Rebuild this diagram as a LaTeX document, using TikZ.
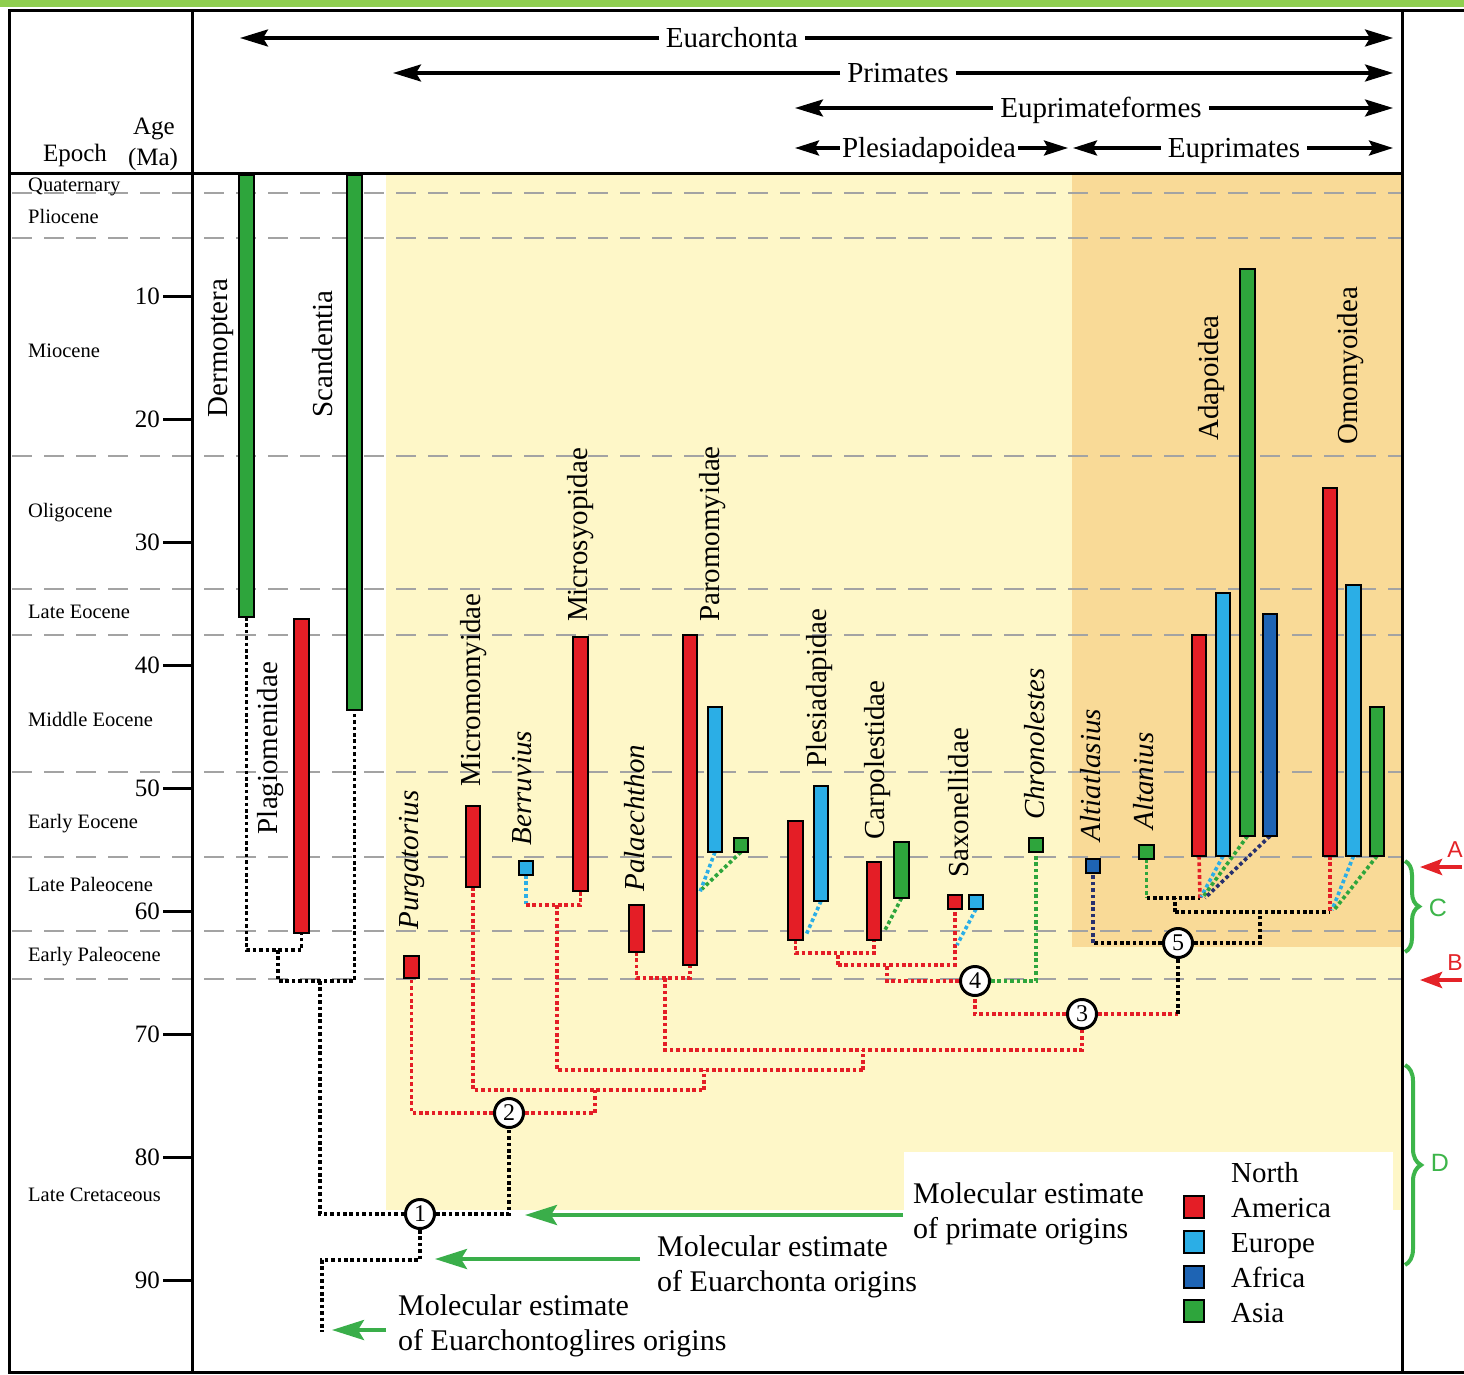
\documentclass[tikz,border=0pt]{standalone}
\usepackage{fontspec}
\setmainfont{Liberation Serif}
\newfontfamily\lettfont{Liberation Sans}
\usetikzlibrary{arrows.meta,decorations.pathreplacing}
\pgfdeclarelayer{back}
\pgfdeclarelayer{conn}
\pgfsetlayers{back,conn,main}
\definecolor{cRed}{HTML}{E41E26}
\definecolor{cLB}{HTML}{2BAEE6}
\definecolor{cDB}{HTML}{1E64B4}
\definecolor{cGr}{HTML}{2EA53C}
\definecolor{cYel}{HTML}{FEF7C8}
\definecolor{cOra}{HTML}{F9DA97}
\definecolor{cTop}{HTML}{8FCF4F}
\definecolor{cArr}{HTML}{3AAE4A}
\definecolor{cDash}{HTML}{A3A3A3}
\definecolor{cNavy}{HTML}{27306E}
\definecolor{cAnn}{HTML}{E42328}
\definecolor{cBrace}{HTML}{3DB54A}
\newcommand\taxbar[6]{%
  \pgfmathsetmacro\tbw{#3-#2-2}\pgfmathsetmacro\tbh{#5-#4-2}%
  \pgfmathsetmacro\tbx{(#2+#3)/2}\pgfmathsetmacro\tby{(#4+#5)/2}%
  \node[barbox, fill=#6, minimum width=\tbw pt, minimum height=\tbh pt] (#1) at (\tbx,\tby) {};}
\begin{document}
\begin{tikzpicture}[x=1pt,y=-1pt,
  barbox/.style={draw=black,line width=2pt,inner sep=0pt,outer sep=0pt},
  dotbase/.style={line width=3.6pt,dash pattern=on 3.6pt off 2.8pt},
  dotk/.style={dotbase,draw=black},
  dotr/.style={dotbase,draw=cRed},
  dotb/.style={dotbase,draw=cLB},
  dotg/.style={dotbase,draw=cGr},
  dotn/.style={dotbase,draw=cNavy},
  epline/.style={draw=cDash,line width=1.6pt,dash pattern=on 20pt off 12pt},
  frame/.style={draw=black,line width=3pt},
  nd/.style={circle,draw=black,line width=3pt,fill=white,minimum size=29pt,inner sep=0pt,font=\fontsize{24}{24}\selectfont},
  harr/.style={draw=black,line width=3.4pt,-{Stealth[length=28pt,width=17pt,inset=5pt]}},
  harrs/.style={draw=black,line width=3.4pt,-{Stealth[length=24pt,width=15pt,inset=4pt]}},
  garr/.style={draw=cArr,line width=4pt,-{Stealth[length=32pt,width=20pt,inset=6pt]}},
  rarr/.style={draw=cAnn,line width=4pt,-{Stealth[length=22pt,width=16pt,inset=4pt]}},
  brc/.style={draw=cBrace,line width=4pt,decorate,decoration={brace,amplitude=14pt}},
  htxt/.style={font=\fontsize{29}{34}\selectfont,inner ysep=0pt,inner xsep=7pt,anchor=base},
  lbl/.style={font=\fontsize{29}{34}\selectfont,inner sep=0pt},
  rot/.style={lbl,rotate=90},
  roti/.style={rot,font=\fontsize{29}{34}\selectfont\itshape},
  epo/.style={font=\fontsize{20.5}{24}\selectfont,inner sep=0pt,anchor=base west},
  agel/.style={font=\fontsize{25}{30}\selectfont,inner sep=0pt},
  ann/.style={font=\fontsize{30}{35}\selectfont,inner sep=0pt,anchor=base west},
  lett/.style={font=\lettfont\fontsize{23}{28}\selectfont,inner sep=0pt}
]
\useasboundingbox (0,0) rectangle (1464,1375);
% backgrounds, epoch boundaries, frame
\begin{pgfonlayer}{back}
\fill[white] (0,0) rectangle (1464,1375);
\fill[cTop] (0,0) rectangle (1464,7);
\fill[cYel] (386,175) rectangle (1402,1210);
\fill[cOra] (1072,175) rectangle (1402,947);
\fill[white] (904,1152) rectangle (1393,1212);
\foreach \yy in {193,238,456,589,635,772,857,931,979}
  \draw[epline] (12,\yy) -- (1402,\yy);
\draw[frame] (1464,10.5) -- (9,10.5) -- (9,1372) -- (1464,1372);
\draw[frame] (192,10.5) -- (192,1372);
\draw[frame] (1402,10.5) -- (1402,1372);
\draw[frame] (9,174) -- (1402,174);
\end{pgfonlayer}
% age axis
\foreach \a in {10,20,...,90}{
  \pgfmathsetmacro\yy{173+12.3*\a}
  \draw[line width=3pt] (163,\yy) -- (192,\yy);
  \node[agel,anchor=east] (age\a) at (160,\yy) {\a};
}
\node[agel,anchor=base] (hAge) at (154,135) {Age};
\node[agel,anchor=base] (hMa) at (153,166) {(Ma)};
\node[agel,anchor=base] (hEp) at (75,162) {Epoch};
% epochs
\node[epo] (eQ) at (28,192) {Quaternary};
\node[epo] (eP) at (28,223) {Pliocene};
\node[epo] (eM) at (28,357) {Miocene};
\node[epo] (eO) at (28,517) {Oligocene};
\node[epo] (eLE) at (28,618) {Late Eocene};
\node[epo] (eME) at (28,726) {Middle Eocene};
\node[epo] (eEE) at (28,828) {Early Eocene};
\node[epo] (eLP) at (28,891) {Late Paleocene};
\node[epo] (eEP) at (28,961) {Early Paleocene};
\node[epo] (eLC) at (28,1201) {Late Cretaceous};
% header arrows
\node[htxt] (tEua) at (732,48) {Euarchonta};
\node[htxt] (tPri) at (898,83) {Primates};
\node[htxt] (tEpf) at (1101,118) {Euprimateformes};
\node[htxt,inner xsep=2pt] (tPle) at (929,158) {Plesiadapoidea};
\node[htxt] (tEup) at (1234,158) {Euprimates};
\coordinate (eaL) at (240,38);  \coordinate (eaR) at (1393,38);
\coordinate (prL) at (393,73);  \coordinate (prR) at (1393,73);
\coordinate (efL) at (795,108); \coordinate (efR) at (1393,108);
\coordinate (plL) at (795,148); \coordinate (plR) at (1068,148);
\coordinate (euL) at (1073,148); \coordinate (euR) at (1393,148);
\draw[harr] (tEua.west |- eaL) -- (eaL);
\draw[harr] (tEua.east |- eaR) -- (eaR);
\draw[harr] (tPri.west |- prL) -- (prL);
\draw[harr] (tPri.east |- prR) -- (prR);
\draw[harr] (tEpf.west |- efL) -- (efL);
\draw[harr] (tEpf.east |- efR) -- (efR);
\draw[harrs] (tPle.west |- plL) -- (plL);
\draw[harrs] (tPle.east |- plR) -- (plR);
\draw[harrs] (tEup.west |- euL) -- (euL);
\draw[harrs] (tEup.east |- euR) -- (euR);
% tree nodes
\node[nd] (n1) at (420,1214) {1};
\node[nd] (n2) at (509,1113) {2};
\node[nd] (n3) at (1082,1014) {3};
\node[nd] (n4) at (975,981) {4};
\node[nd] (n5) at (1178,943) {5};
% bars
\taxbar{derm}{238}{255}{174}{618}{cGr}
\taxbar{plag}{293}{310}{618}{934}{cRed}
\taxbar{scan}{346}{363}{174}{711}{cGr}
\taxbar{purg}{403}{420}{955}{979}{cRed}
\taxbar{micro}{465}{481}{805}{888}{cRed}
\taxbar{berr}{518}{534}{860}{876}{cLB}
\taxbar{msyo}{572}{589}{636}{892}{cRed}
\taxbar{pala}{628}{645}{904}{953}{cRed}
\taxbar{paroR}{682}{698}{634}{966}{cRed}
\taxbar{paroB}{707}{723}{706}{853}{cLB}
\taxbar{paroG}{733}{749}{837}{853}{cGr}
\taxbar{plesR}{787}{804}{820}{941}{cRed}
\taxbar{plesB}{813}{829}{785}{902}{cLB}
\taxbar{carpR}{866}{882}{861}{941}{cRed}
\taxbar{carpG}{893}{910}{841}{899}{cGr}
\taxbar{saxR}{947}{963}{894}{910}{cRed}
\taxbar{saxB}{968}{984}{894}{910}{cLB}
\taxbar{chron}{1028}{1044}{837}{853}{cGr}
\taxbar{altia}{1085}{1101}{858}{874}{cDB}
\taxbar{altan}{1138}{1155}{844}{860}{cGr}
\taxbar{adaR}{1191}{1207}{634}{857}{cRed}
\taxbar{adaB}{1215}{1231}{592}{857}{cLB}
\taxbar{adaG}{1239}{1256}{268}{837}{cGr}
\taxbar{adaD}{1262}{1278}{613}{837}{cDB}
\taxbar{omoR}{1322}{1338}{487}{857}{cRed}
\taxbar{omoB}{1345}{1362}{584}{857}{cLB}
\taxbar{omoG}{1369}{1385}{706}{857}{cGr}
% junction coordinates
\coordinate (kA) at (278,950);
\coordinate (kB) at (320,981);
\coordinate (kC) at (420,1260);
\coordinate (kD) at (322,1332);
\coordinate (rA) at (595,1090);
\coordinate (rB) at (704,1090);
\coordinate (rBt) at (704,1070);
\coordinate (jBM) at (557,905);
\coordinate (rD) at (863,1070);
\coordinate (rE) at (863,1050);
\coordinate (jPP) at (665,978);
\coordinate (rF) at (1082,1050);
\coordinate (bB) at (526,905);
\coordinate (pB) at (700,892);
\coordinate (pG) at (702,889);
\coordinate (kE) at (1178,1014);
\coordinate (rG) at (887,965);
\coordinate (rH) at (838,965);
\coordinate (rI) at (838,953);
\coordinate (plB) at (806,935);
\coordinate (caG) at (884,932);
\coordinate (sxB) at (957,945);
\coordinate (kF) at (1260,912);
\coordinate (kG) at (1093,943);
\coordinate (kH) at (1175,912);
\coordinate (kI) at (1330,912);
\coordinate (kJ) at (1200,898);
\coordinate (kK) at (1146.5,898);
\coordinate (adB) at (1201,897);
\coordinate (adG) at (1203,897);
\coordinate (adD) at (1205,898);
\coordinate (omB) at (1332,910);
\coordinate (omG) at (1334,910);
% connectors, under the bars and circles
\begin{pgfonlayer}{conn}
\draw[dotk] (derm.south) |- (kA) -| (plag.south);
\draw[dotk] (kA) |- (kB) -| (scan.south);
\draw[dotk] (kB) |- (n1);
\draw[dotk] (n1) -| (n2);
\draw[dotk] (n1) -- (kC) -| (kD);
\draw[dotr] (n2) -| (purg.south);
\draw[dotr] (n2) -| (rA);
\draw[dotr] (micro.south) |- (rB);
\draw[dotr] (rB) -- (rBt);
\draw[dotr] (jBM) |- (rD);
\draw[dotr] (rD) -- (rE);
\draw[dotr] (jPP) |- (rF) -- (n3);
\draw[dotb] (berr.south) -- (bB);
\draw[dotr] (bB) -| (msyo.south);
\draw[dotr] (pala.south) |- (jPP) -| (paroR.south);
\draw[dotb] (paroB.south) -- (pB);
\draw[dotg] (paroG.south) -- (pG);
\draw[dotr] (n3) -| (n4);
\draw[dotr] (n3) -- (kE);
\draw[dotk] (kE) -- (n5);
\draw[dotr] (n4) -| (rG);
\draw[dotr] (rH) -| (saxR.south);
\draw[dotr] (rH) -- (rI);
\draw[dotr] (plesR.south) |- (rI) -| (carpR.south);
\draw[dotb] (plesB.south) -- (plB);
\draw[dotg] (carpG.south) -- (caG);
\draw[dotb] (saxB.south) -- (sxB);
\draw[dotg] (n4) -| (chron.south);
\draw[dotk] (n5) -| (kF);
\draw[dotk] (n5) -- (kG);
\draw[dotn] (kG) -- (altia.south);
\draw[dotk] (kH) -- (kI);
\draw[dotk] (kH) -- (kH |- kJ);
\draw[dotg] (altan.south) -- (kK);
\draw[dotk] (kK) -- (kJ);
\draw[dotr] (adaR.south) -- (kJ);
\draw[dotb] (adaB.south) -- (adB);
\draw[dotg] (adaG.south) -- (adG);
\draw[dotn] (adaD.south) -- (adD);
\draw[dotr] (omoR.south) -- (kI);
\draw[dotb] (omoB.south) -- (omB);
\draw[dotg] (omoG.south) -- (omG);
\end{pgfonlayer}
% taxon labels
\node[rot] (lDerm) at (221,348) {Dermoptera};
\node[rot] (lScan) at (323,354) {Scandentia};
\node[rot] (lPlag) at (271,748) {Plagiomenidae};
\node[roti] (lPurg) at (412,860) {Purgatorius};
\node[rot] (lMicro) at (474,690) {Micromomyidae};
\node[roti] (lBerr) at (522,788) {Berruvius};
\node[rot] (lMsyo) at (581,535) {Microsyopidae};
\node[roti] (lPala) at (635,818) {Palaechthon};
\node[rot] (lParo) at (713,534) {Paromomyidae};
\node[rot] (lPles) at (820,688) {Plesiadapidae};
\node[rot] (lCarp) at (878,760) {Carpolestidae};
\node[rot] (lSax) at (959,803) {Saxonellidae};
\node[roti] (lChron) at (1035,744) {Chronolestes};
\node[roti] (lAltia) at (1091,775) {Altiatlasius};
\node[roti] (lAltan) at (1144,781) {Altanius};
\node[rot] (lAda) at (1212,378) {Adapoidea};
\node[rot] (lOmo) at (1351,366) {Omomyoidea};
% molecular estimates
\node[ann] (mP1) at (913,1203) {Molecular estimate};
\node[ann] (mP2) at (913,1238) {of primate origins};
\node[ann] (mE1) at (657,1256) {Molecular estimate};
\node[ann] (mE2) at (657,1291) {of Euarchonta origins};
\node[ann] (mG1) at (398,1315) {Molecular estimate};
\node[ann] (mG2) at (398,1350) {of Euarchontoglires origins};
\coordinate (gPs) at (903,1215); \coordinate (gPe) at (525,1215);
\coordinate (gEs) at (640,1259); \coordinate (gEe) at (435,1259);
\coordinate (gGs) at (386,1330); \coordinate (gGe) at (332,1330);
\draw[garr] (gPs) -- (gPe);
\draw[garr] (gEs) -- (gEe);
\draw[garr] (gGs) -- (gGe);
% legend
\node[barbox,fill=cRed,minimum width=20pt,minimum height=22pt] (legR) at (1194,1207) {};
\node[barbox,fill=cLB,minimum width=20pt,minimum height=22pt] (legE) at (1194,1242) {};
\node[barbox,fill=cDB,minimum width=20pt,minimum height=22pt] (legA) at (1194,1277) {};
\node[barbox,fill=cGr,minimum width=20pt,minimum height=22pt] (legS) at (1194,1311) {};
\node[lbl,anchor=base west] (tNorth) at (1231,1182) {North};
\node[lbl,anchor=base west] (tAmer) at (1231,1217) {America};
\node[lbl,anchor=base west] (tEuro) at (1231,1252) {Europe};
\node[lbl,anchor=base west] (tAfr) at (1231,1287) {Africa};
\node[lbl,anchor=base west] (tAsia) at (1231,1322) {Asia};
% right annotations
\coordinate (bCt) at (1405,861); \coordinate (bCb) at (1405,952);
\coordinate (bDt) at (1405,1065); \coordinate (bDb) at (1405,1265);
\draw[brc] (bCt) -- (bCb);
\draw[brc,decoration={brace,amplitude=16pt}] (bDt) -- (bDb);
\node[lett,text=cBrace,font=\lettfont\fontsize{25}{30}\selectfont] (lC) at (1438,908) {C};
\node[lett,text=cBrace,font=\lettfont\fontsize{25}{30}\selectfont] (lD) at (1440,1163) {D};
\coordinate (aAs) at (1462,867); \coordinate (aAe) at (1420,867);
\coordinate (aBs) at (1462,980); \coordinate (aBe) at (1420,980);
\draw[rarr] (aAs) -- (aAe);
\draw[rarr] (aBs) -- (aBe);
\node[lett,text=cAnn,anchor=east] (lA) at (1463,850) {A};
\node[lett,text=cAnn,anchor=east] (lB) at (1463,963) {B};
\end{tikzpicture}
\end{document}
